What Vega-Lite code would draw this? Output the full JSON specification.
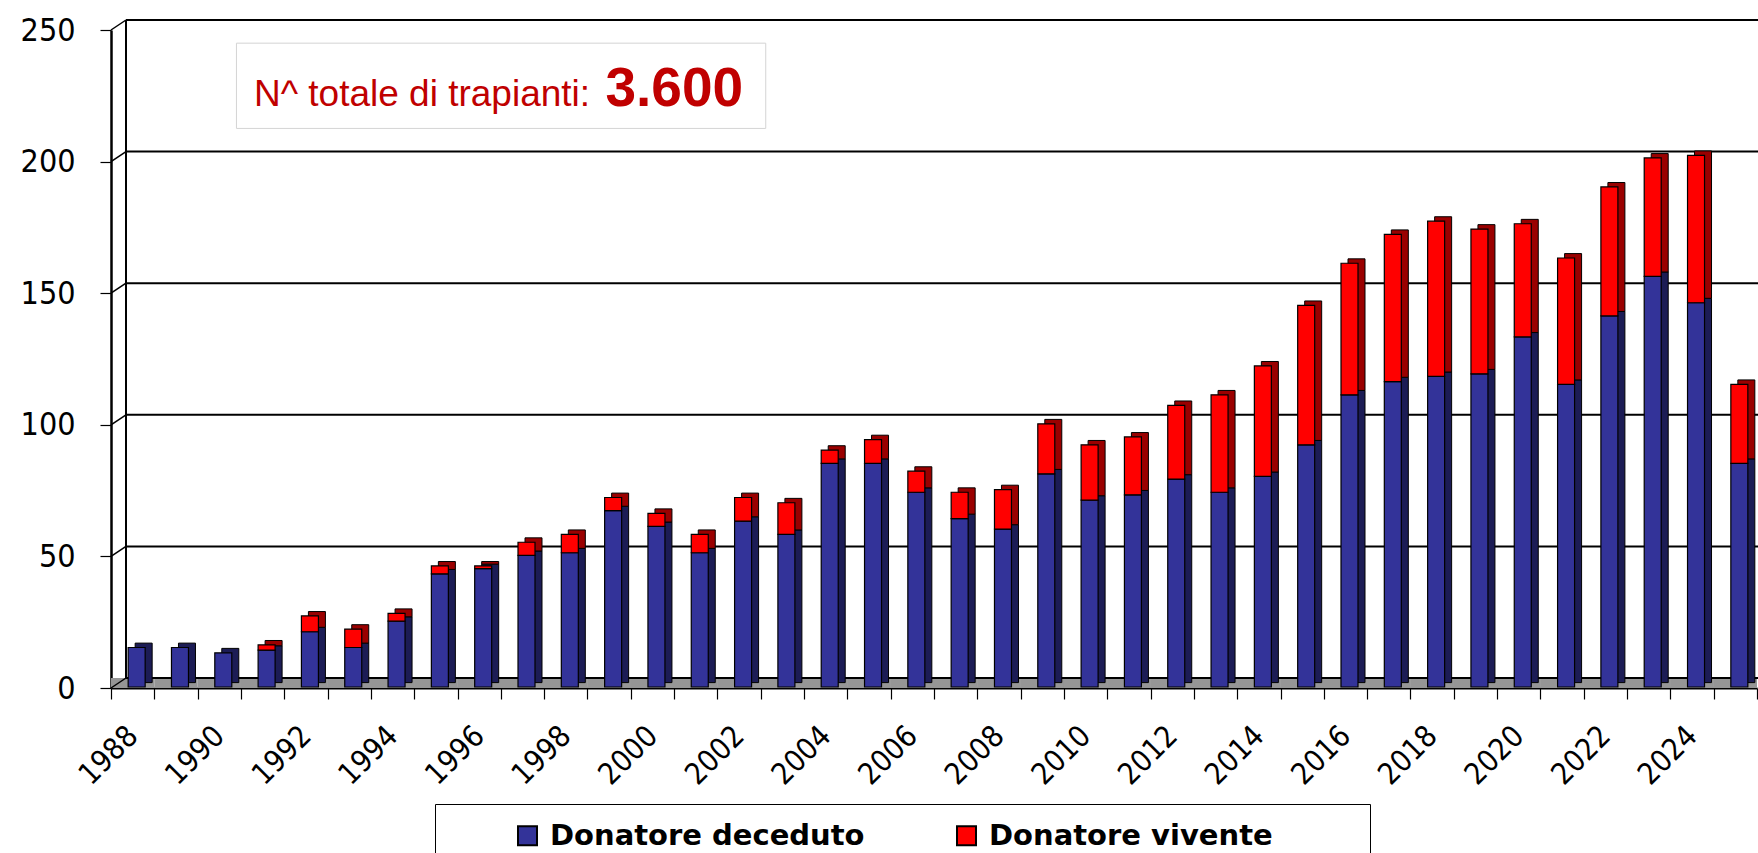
{
  "$schema": "https://vega.github.io/schema/vega-lite/v6.json",
  "width": 1646,
  "height": 658,
  "autosize": {"type": "none"},
  "padding": {"left": 111, "top": 30, "right": 1, "bottom": 165},
  "background": "white",
  "config": {"view": {"stroke": null}},
  "datasets": {
    "trapianti": [
      {"anno": "1988", "tipo": "Donatore deceduto", "n": 15},
      {"anno": "1989", "tipo": "Donatore deceduto", "n": 15},
      {"anno": "1990", "tipo": "Donatore deceduto", "n": 13},
      {"anno": "1991", "tipo": "Donatore deceduto", "n": 14},
      {"anno": "1991", "tipo": "Donatore vivente", "n": 2},
      {"anno": "1992", "tipo": "Donatore deceduto", "n": 21},
      {"anno": "1992", "tipo": "Donatore vivente", "n": 6},
      {"anno": "1993", "tipo": "Donatore deceduto", "n": 15},
      {"anno": "1993", "tipo": "Donatore vivente", "n": 7},
      {"anno": "1994", "tipo": "Donatore deceduto", "n": 25},
      {"anno": "1994", "tipo": "Donatore vivente", "n": 3},
      {"anno": "1995", "tipo": "Donatore deceduto", "n": 43},
      {"anno": "1995", "tipo": "Donatore vivente", "n": 3},
      {"anno": "1996", "tipo": "Donatore deceduto", "n": 45},
      {"anno": "1996", "tipo": "Donatore vivente", "n": 1},
      {"anno": "1997", "tipo": "Donatore deceduto", "n": 50},
      {"anno": "1997", "tipo": "Donatore vivente", "n": 5},
      {"anno": "1998", "tipo": "Donatore deceduto", "n": 51},
      {"anno": "1998", "tipo": "Donatore vivente", "n": 7},
      {"anno": "1999", "tipo": "Donatore deceduto", "n": 67},
      {"anno": "1999", "tipo": "Donatore vivente", "n": 5},
      {"anno": "2000", "tipo": "Donatore deceduto", "n": 61},
      {"anno": "2000", "tipo": "Donatore vivente", "n": 5},
      {"anno": "2001", "tipo": "Donatore deceduto", "n": 51},
      {"anno": "2001", "tipo": "Donatore vivente", "n": 7},
      {"anno": "2002", "tipo": "Donatore deceduto", "n": 63},
      {"anno": "2002", "tipo": "Donatore vivente", "n": 9},
      {"anno": "2003", "tipo": "Donatore deceduto", "n": 58},
      {"anno": "2003", "tipo": "Donatore vivente", "n": 12},
      {"anno": "2004", "tipo": "Donatore deceduto", "n": 85},
      {"anno": "2004", "tipo": "Donatore vivente", "n": 5},
      {"anno": "2005", "tipo": "Donatore deceduto", "n": 85},
      {"anno": "2005", "tipo": "Donatore vivente", "n": 9},
      {"anno": "2006", "tipo": "Donatore deceduto", "n": 74},
      {"anno": "2006", "tipo": "Donatore vivente", "n": 8},
      {"anno": "2007", "tipo": "Donatore deceduto", "n": 64},
      {"anno": "2007", "tipo": "Donatore vivente", "n": 10},
      {"anno": "2008", "tipo": "Donatore deceduto", "n": 60},
      {"anno": "2008", "tipo": "Donatore vivente", "n": 15},
      {"anno": "2009", "tipo": "Donatore deceduto", "n": 81},
      {"anno": "2009", "tipo": "Donatore vivente", "n": 19},
      {"anno": "2010", "tipo": "Donatore deceduto", "n": 71},
      {"anno": "2010", "tipo": "Donatore vivente", "n": 21},
      {"anno": "2011", "tipo": "Donatore deceduto", "n": 73},
      {"anno": "2011", "tipo": "Donatore vivente", "n": 22},
      {"anno": "2012", "tipo": "Donatore deceduto", "n": 79},
      {"anno": "2012", "tipo": "Donatore vivente", "n": 28},
      {"anno": "2013", "tipo": "Donatore deceduto", "n": 74},
      {"anno": "2013", "tipo": "Donatore vivente", "n": 37},
      {"anno": "2014", "tipo": "Donatore deceduto", "n": 80},
      {"anno": "2014", "tipo": "Donatore vivente", "n": 42},
      {"anno": "2015", "tipo": "Donatore deceduto", "n": 92},
      {"anno": "2015", "tipo": "Donatore vivente", "n": 53},
      {"anno": "2016", "tipo": "Donatore deceduto", "n": 111},
      {"anno": "2016", "tipo": "Donatore vivente", "n": 50},
      {"anno": "2017", "tipo": "Donatore deceduto", "n": 116},
      {"anno": "2017", "tipo": "Donatore vivente", "n": 56},
      {"anno": "2018", "tipo": "Donatore deceduto", "n": 118},
      {"anno": "2018", "tipo": "Donatore vivente", "n": 59},
      {"anno": "2019", "tipo": "Donatore deceduto", "n": 119},
      {"anno": "2019", "tipo": "Donatore vivente", "n": 55},
      {"anno": "2020", "tipo": "Donatore deceduto", "n": 133},
      {"anno": "2020", "tipo": "Donatore vivente", "n": 43},
      {"anno": "2021", "tipo": "Donatore deceduto", "n": 115},
      {"anno": "2021", "tipo": "Donatore vivente", "n": 48},
      {"anno": "2022", "tipo": "Donatore deceduto", "n": 141},
      {"anno": "2022", "tipo": "Donatore vivente", "n": 49},
      {"anno": "2023", "tipo": "Donatore deceduto", "n": 156},
      {"anno": "2023", "tipo": "Donatore vivente", "n": 45},
      {"anno": "2024", "tipo": "Donatore deceduto", "n": 146},
      {"anno": "2024", "tipo": "Donatore vivente", "n": 56},
      {"anno": "2025", "tipo": "Donatore deceduto", "n": 85},
      {"anno": "2025", "tipo": "Donatore vivente", "n": 30}
    ],
    "griglia": [{"v": 0}, {"v": 50}, {"v": 100}, {"v": 150}, {"v": 200}, {"v": 250}],
    "nota": [{"testo": "N^ totale di trapianti:", "totale": "3.600"}]
  },
  "layer": [
    {
      "data": {"name": "trapianti"},
      "mark": {"type": "bar", "size": 17, "xOffset": 4, "yOffset": -1, "y2Offset": -1, "stroke": "black", "strokeWidth": 1.2},
      "encoding": {
        "x": {
          "field": "anno", "type": "ordinal",
          "scale": {"paddingInner": 0, "paddingOuter": 0},
          "axis": {
            "title": null,
            "labelAngle": -45,
            "labelAlign": "right",
            "labelBaseline": "middle",
            "labelFont": "DejaVu Sans Condensed, DejaVu Sans",
            "labelFontSize": 30,
            "labelColor": "black",
            "labelPadding": 32,
            "labelOverlap": false,
            "tickBand": "extent",
            "tickSize": 11,
            "tickColor": "black",
            "tickWidth": 1.2,
            "domainColor": "black",
            "domainWidth": 2,
            "grid": false,
            "labelExpr": "toNumber(datum.value) % 2 == 0 ? datum.value : ''"
          }
        },
        "y": {
          "field": "n", "type": "quantitative", "stack": "zero",
          "scale": {"domain": [0, 250], "nice": false},
          "axis": {
            "title": null,
            "values": [0, 50, 100, 150, 200, 250],
            "labelFont": "DejaVu Sans Condensed, DejaVu Sans",
            "labelFontSize": 32,
            "labelColor": "black",
            "labelPadding": 25,
            "tickSize": 11,
            "tickColor": "black",
            "tickWidth": 1.2,
            "domainColor": "black",
            "domainWidth": 2.5,
            "grid": false
          }
        },
        "order": {"field": "tipo", "type": "nominal", "sort": "ascending"},
        "color": {
          "field": "tipo", "type": "nominal",
          "scale": {"domain": ["Donatore deceduto", "Donatore vivente"], "range": ["#333399", "#ff0000"]},
          "legend": {
            "orient": "none",
            "legendX": 324,
            "legendY": 774,
            "direction": "horizontal",
            "columns": 2,
            "title": " ",
            "titleOrient": "right",
            "titlePadding": 80,
            "padding": 17,
            "symbolOffset": 61,
            "strokeColor": "black",
            "fillColor": "white",
            "symbolType": "square",
            "symbolSize": 361,
            "symbolStrokeColor": "black",
            "symbolStrokeWidth": 2,
            "labelFont": "DejaVu Sans",
            "labelFontSize": 29,
            "labelFontWeight": "bold",
            "labelColor": "black",
            "labelLimit": 500,
            "labelOffset": 8,
            "columnPadding": 26
          }
        },
        "opacity": {"value": 0}
      }
    },
    {
      "data": {"name": "trapianti"},
      "mark": {"type": "rect", "fill": "#969696"},
      "encoding": {
        "x": {"field": "anno", "type": "ordinal"},
        "y": {"datum": 0, "type": "quantitative"},
        "y2": {"datum": 3.8}
      }
    },
    {
      "data": {"name": "griglia"},
      "mark": {"type": "rule", "color": "black", "strokeWidth": 2, "xOffset": 15, "x2Offset": 15, "yOffset": -10},
      "encoding": {
        "x": {"datum": "1988", "type": "ordinal", "bandPosition": 0},
        "x2": {"datum": "2025", "bandPosition": 1},
        "y": {"field": "v", "type": "quantitative"}
      }
    },
    {
      "data": {"name": "griglia"},
      "mark": {"type": "rule", "color": "black", "strokeWidth": 1.5, "x2Offset": 15, "y2Offset": -10},
      "encoding": {
        "x": {"datum": "1988", "type": "ordinal", "bandPosition": 0},
        "x2": {"datum": "1988", "bandPosition": 0},
        "y": {"field": "v", "type": "quantitative"},
        "y2": {"field": "v"}
      }
    },
    {
      "data": {"name": "nota"},
      "mark": {"type": "rule", "color": "black", "strokeWidth": 2, "xOffset": 15, "x2Offset": 15, "yOffset": -10, "y2Offset": -10},
      "encoding": {
        "x": {"datum": "1988", "type": "ordinal", "bandPosition": 0},
        "x2": {"datum": "1988", "bandPosition": 0},
        "y": {"datum": 0, "type": "quantitative"},
        "y2": {"datum": 250}
      }
    },
    {
      "data": {"name": "trapianti"},
      "mark": {"type": "bar", "size": 17, "xOffset": 11, "yOffset": -5.4, "y2Offset": -5.4, "stroke": "black", "strokeWidth": 1},
      "encoding": {
        "x": {"field": "anno", "type": "ordinal"},
        "y": {"field": "n", "type": "quantitative", "stack": "zero"},
        "detail": {"field": "tipo"},
        "order": {"field": "tipo", "type": "nominal", "sort": "ascending"},
        "fill": {"condition": {"test": "datum.tipo == 'Donatore vivente'", "value": "#9a0000"}, "value": "#1c1c55"}
      }
    },
    {
      "data": {"name": "trapianti"},
      "mark": {"type": "bar", "size": 17, "xOffset": 4, "yOffset": -1, "y2Offset": -1, "stroke": "black", "strokeWidth": 1.2},
      "encoding": {
        "x": {"field": "anno", "type": "ordinal"},
        "y": {"field": "n", "type": "quantitative", "stack": "zero"},
        "detail": {"field": "tipo"},
        "order": {"field": "tipo", "type": "nominal", "sort": "ascending"},
        "fill": {"condition": {"test": "datum.tipo == 'Donatore vivente'", "value": "#ff0000"}, "value": "#333399"}
      }
    },
    {
      "data": {"name": "nota"},
      "mark": {"type": "rect", "fill": "white", "stroke": "#d4d4d4", "strokeWidth": 1, "xOffset": -4.5, "x2Offset": 5},
      "encoding": {
        "x": {"datum": "1991", "type": "ordinal", "bandPosition": 0},
        "x2": {"datum": "2003", "bandPosition": 0},
        "y": {"datum": 245, "type": "quantitative"},
        "y2": {"datum": 212.6}
      }
    },
    {
      "data": {"name": "nota"},
      "mark": {"type": "text", "align": "left", "baseline": "alphabetic", "dx": 13, "font": "Liberation Sans", "fontSize": 37, "color": "#c00000"},
      "encoding": {
        "x": {"datum": "1991", "type": "ordinal", "bandPosition": 0},
        "y": {"datum": 221, "type": "quantitative"},
        "text": {"field": "testo"}
      }
    },
    {
      "data": {"name": "nota"},
      "mark": {"type": "text", "align": "left", "baseline": "alphabetic", "dx": 18, "font": "Liberation Sans", "fontSize": 55, "fontWeight": "bold", "color": "#c00000"},
      "encoding": {
        "x": {"datum": "1999", "type": "ordinal", "bandPosition": 0},
        "y": {"datum": 221, "type": "quantitative"},
        "text": {"field": "totale"}
      }
    }
  ]
}
